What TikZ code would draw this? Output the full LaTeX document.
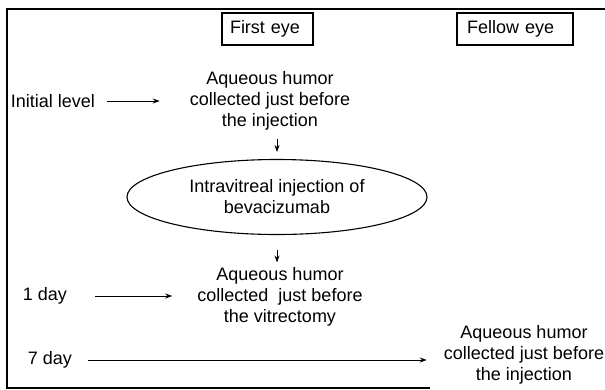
\documentclass[tikz,border=0pt]{standalone}
\usepackage{fontspec}
\setmainfont{Liberation Sans}
\usetikzlibrary{shapes.geometric,arrows.meta}
\begin{document}
\begin{tikzpicture}[x=1pt, y=-1pt,
    txt/.style={align=center, inner sep=0pt, font=\fontsize{18}{21}\selectfont},
    eyebox/.style={draw, line width=1.1pt, inner ysep=0pt, minimum height=32pt, align=left, font=\fontsize{18}{21}\selectfont},
    arr/.style={-{Stealth[length=7pt,width=5pt]}, line width=0.9pt}]
    \useasboundingbox (0,0) rectangle (605,389);
    % outer frame, its right side lies off the page
    \draw[line width=1.4pt] (606,9) -- (7,9) -- (7,388) -- (430,388);
    \node[eyebox, inner xsep=8pt, text width=75pt] (first) at (267.5,29) {First eye};
    \node[eyebox, inner xsep=10pt, text width=96pt] (fellow) at (515,29) {Fellow eye};
    \node[txt] (init) at (53,101) {Initial level};
    \node[txt] (aq1) at (270,101) {Aqueous humor\\collected just before\\the injection};
    \node[txt, draw, ellipse, line width=1.1pt, minimum width=300pt, minimum height=75pt] (inj) at (277,197) {Intravitreal injection of\\bevacizumab};
    \node[txt] (aq2) at (280,297) {Aqueous humor\\collected\ \ just before\\the vitrectomy};
    \node[txt] (day1) at (45,296) {1 day};
    \node[txt] (day7) at (50,360) {7 day};
    \node[txt] (aq3) at (524,355) {Aqueous humor\\collected just before\\the injection};
    \draw[arr, shorten <=12pt, shorten >=30pt] (init) -- (aq1);
    \draw[arr, shorten <=8pt, shorten >=7pt] (aq1.south -| inj.north) -- (inj.north);
    \draw[arr, shorten <=15pt, shorten >=5pt] (inj.south) -- (inj.south |- aq2.north);
    \draw[arr, shorten <=28pt, shorten >=25pt] (day1.east) -- (day1.east -| aq2.west);
    \draw[arr, shorten <=16pt, shorten >=17pt] (day7.east) -- (day7.east -| aq3.west);
\end{tikzpicture}
\end{document}
